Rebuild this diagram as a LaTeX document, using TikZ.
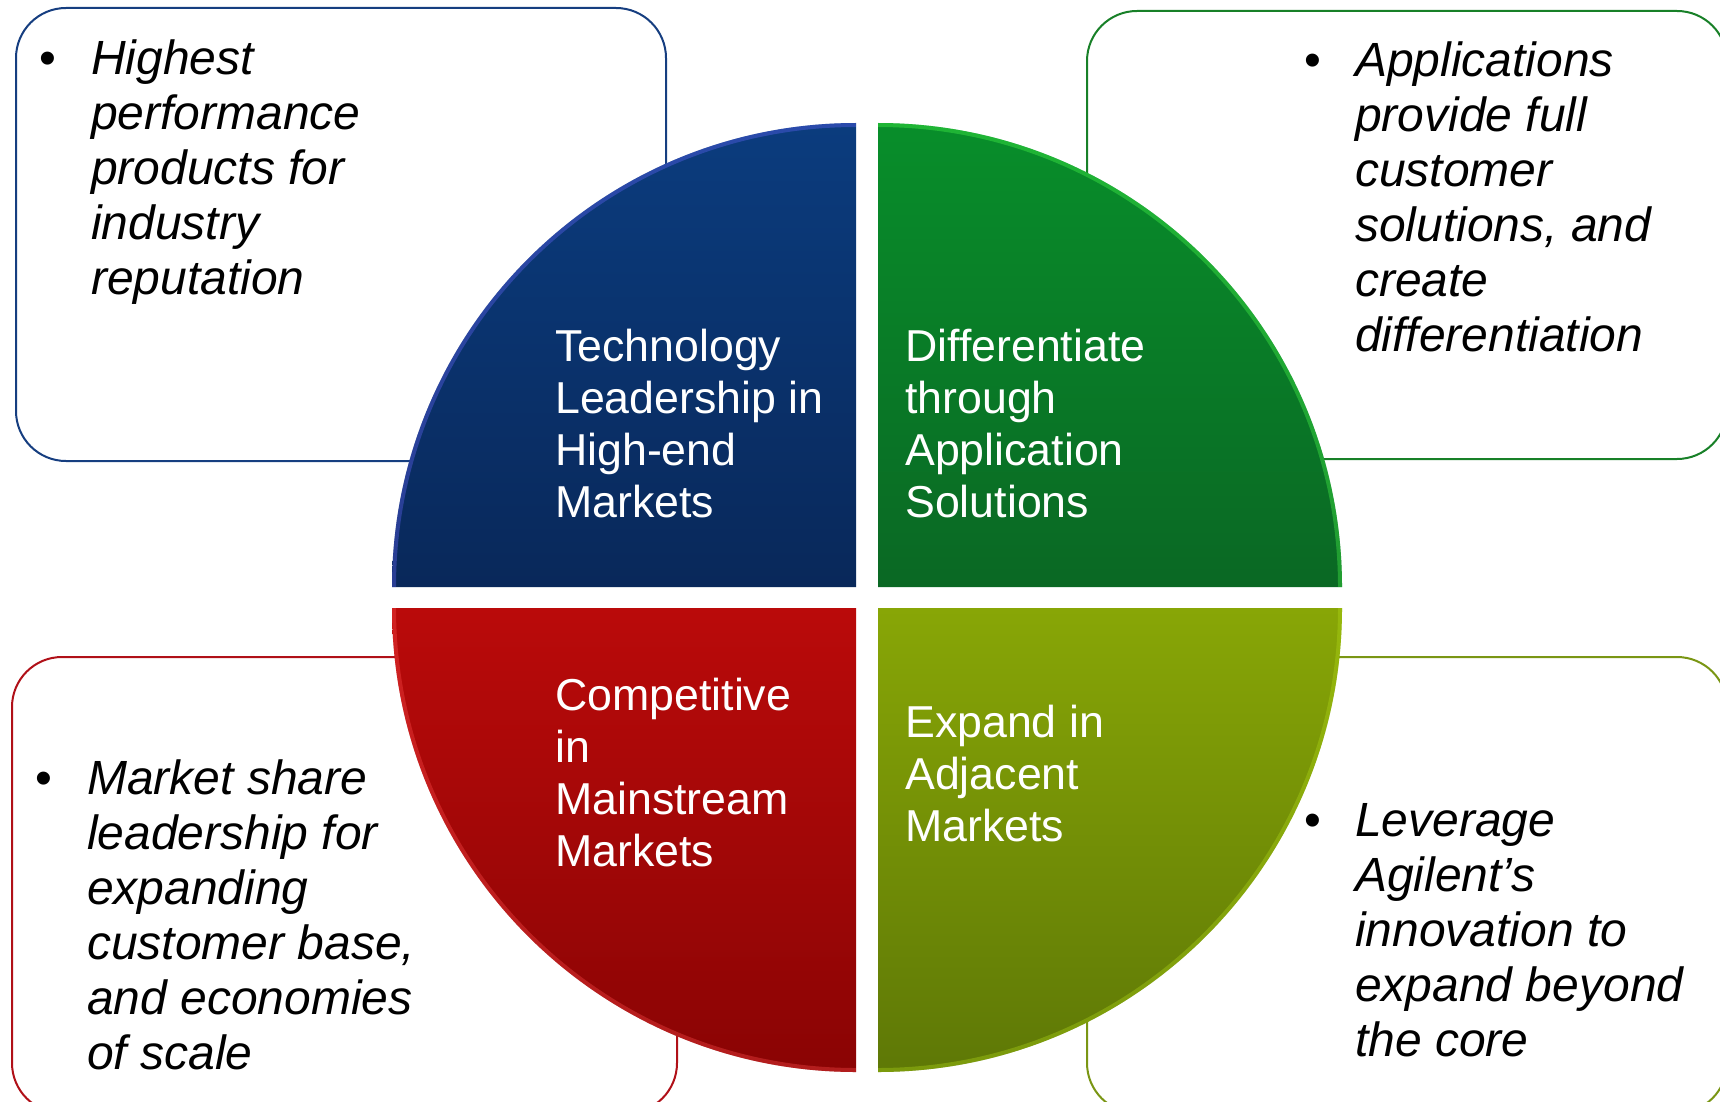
\documentclass[tikz,border=0pt]{standalone}
\usepackage{fontspec}
\setmainfont{Liberation Sans}
\definecolor{boxblue}{RGB}{22,62,128}
\definecolor{boxgreen}{RGB}{24,128,40}
\definecolor{boxred}{RGB}{176,16,24}
\definecolor{boxolive}{RGB}{122,150,20}
\definecolor{bluetop}{RGB}{11,60,126}
\definecolor{bluebot}{RGB}{9,40,90}
\definecolor{greentop}{RGB}{8,142,42}
\definecolor{greenbot}{RGB}{10,104,36}
\definecolor{redtop}{RGB}{186,10,10}
\definecolor{redbot}{RGB}{138,4,4}
\definecolor{olivetop}{RGB}{136,166,6}
\definecolor{olivebot}{RGB}{94,120,6}
\newcommand\textlines[1]{\begin{tabular}[t]{@{}l@{}}#1\end{tabular}}
\tikzset{
  notebox/.style={draw, line width=2pt, fill=white, rounded corners=50pt,
    anchor=north west, inner sep=0pt, minimum width=#1},
  notetext/.style={anchor=base west, inner sep=0pt,
    font=\fontsize{48}{55}\selectfont\itshape},
  bulletmark/.style={anchor=base, inner sep=0pt, font=\fontsize{48}{55}\selectfont},
  quadtext/.style={anchor=base west, inner sep=0pt, text=white,
    font=\fontsize{44.7}{52}\selectfont},
  rim/.style={line width=8pt, opacity=0.35}
}
\begin{document}
\begin{tikzpicture}[x=1pt,y=1pt]
\useasboundingbox (0,0) rectangle (1720,-1102);
\clip (0,0) rectangle (1720,-1102);

% note frames behind the circle
\node[notebox=650pt, minimum height=453pt, draw=boxblue]  (tlbox) at (15,-7) {};
\node[notebox=640pt, minimum height=448pt, draw=boxgreen] (trbox) at (1086,-10) {};
\node[notebox=665pt, minimum height=456pt, draw=boxred]   (blbox) at (11,-656) {};
\node[notebox=640pt, minimum height=456pt, draw=boxolive] (brbox) at (1086,-656) {};

% four quarter discs
\def\R{464}
\shade[top color=bluetop, bottom color=bluebot]
  (856,-587) -- ++(-\R,0) arc[start angle=180,end angle=90,radius=\R] -- cycle;
\shade[top color=greentop, bottom color=greenbot]
  (878,-587) -- ++(0,\R) arc[start angle=90,end angle=0,radius=\R] -- cycle;
\shade[top color=redtop, bottom color=redbot]
  (856,-608) -- ++(-\R,0) arc[start angle=180,end angle=270,radius=\R] -- cycle;
\shade[top color=olivetop, bottom color=olivebot]
  (878,-608) -- ++(0,-\R) arc[start angle=270,end angle=360,radius=\R] -- cycle;

% bevel highlight along the rims
\begin{scope}
  \clip (856,-587) -- ++(-\R,0) arc[start angle=180,end angle=90,radius=\R] -- cycle;
  \draw[rim, color=blue!60!white] (856,-587) ++(-\R,0) arc[start angle=180,end angle=90,radius=\R];
\end{scope}
\begin{scope}
  \clip (878,-587) -- ++(0,\R) arc[start angle=90,end angle=0,radius=\R] -- cycle;
  \draw[rim, color=green!70!white] (878,-587) ++(0,\R) arc[start angle=90,end angle=0,radius=\R];
\end{scope}
\begin{scope}
  \clip (856,-608) -- ++(-\R,0) arc[start angle=180,end angle=270,radius=\R] -- cycle;
  \draw[rim, color=red!70!white] (856,-608) ++(-\R,0) arc[start angle=180,end angle=270,radius=\R];
\end{scope}
\begin{scope}
  \clip (878,-608) -- ++(0,-\R) arc[start angle=270,end angle=360,radius=\R] -- cycle;
  \draw[rim, color=yellow!70!green] (878,-608) ++(0,-\R) arc[start angle=270,end angle=360,radius=\R];
\end{scope}

% quadrant labels
\node[quadtext] (qtech) at (555,-361) {\textlines{Technology\\Leadership in\\High-end\\Markets}};
\node[quadtext] (qdiff) at (905,-361) {\textlines{Differentiate\\through\\Application\\Solutions}};
\node[quadtext] (qcomp) at (555,-710) {\textlines{Competitive\\in\\Mainstream\\Markets}};
\node[quadtext] (qexp)  at (905,-737) {\textlines{Expand in\\Adjacent\\Markets}};

% bullet notes
\node[bulletmark] (tlbul) at (48,-75) {•};
\node[notetext] (tltext) at (91,-75)
  {\textlines{Highest\\performance\\products for\\industry\\reputation}};
\node[bulletmark] (trbul) at (1313,-77) {•};
\node[notetext] (trtext) at (1355,-77)
  {\textlines{Applications\\provide full\\customer\\solutions, and\\create\\differentiation}};
\node[bulletmark] (blbul) at (44,-794) {•};
\node[notetext] (bltext) at (87,-794)
  {\textlines{Market share\\leadership for\\expanding\\customer base,\\and economies\\of scale}};
\node[bulletmark] (brbul) at (1313,-836) {•};
\node[notetext] (brtext) at (1355,-836)
  {\textlines{Leverage\\Agilent’s\\innovation to\\expand beyond\\the core}};
\end{tikzpicture}
\end{document}
